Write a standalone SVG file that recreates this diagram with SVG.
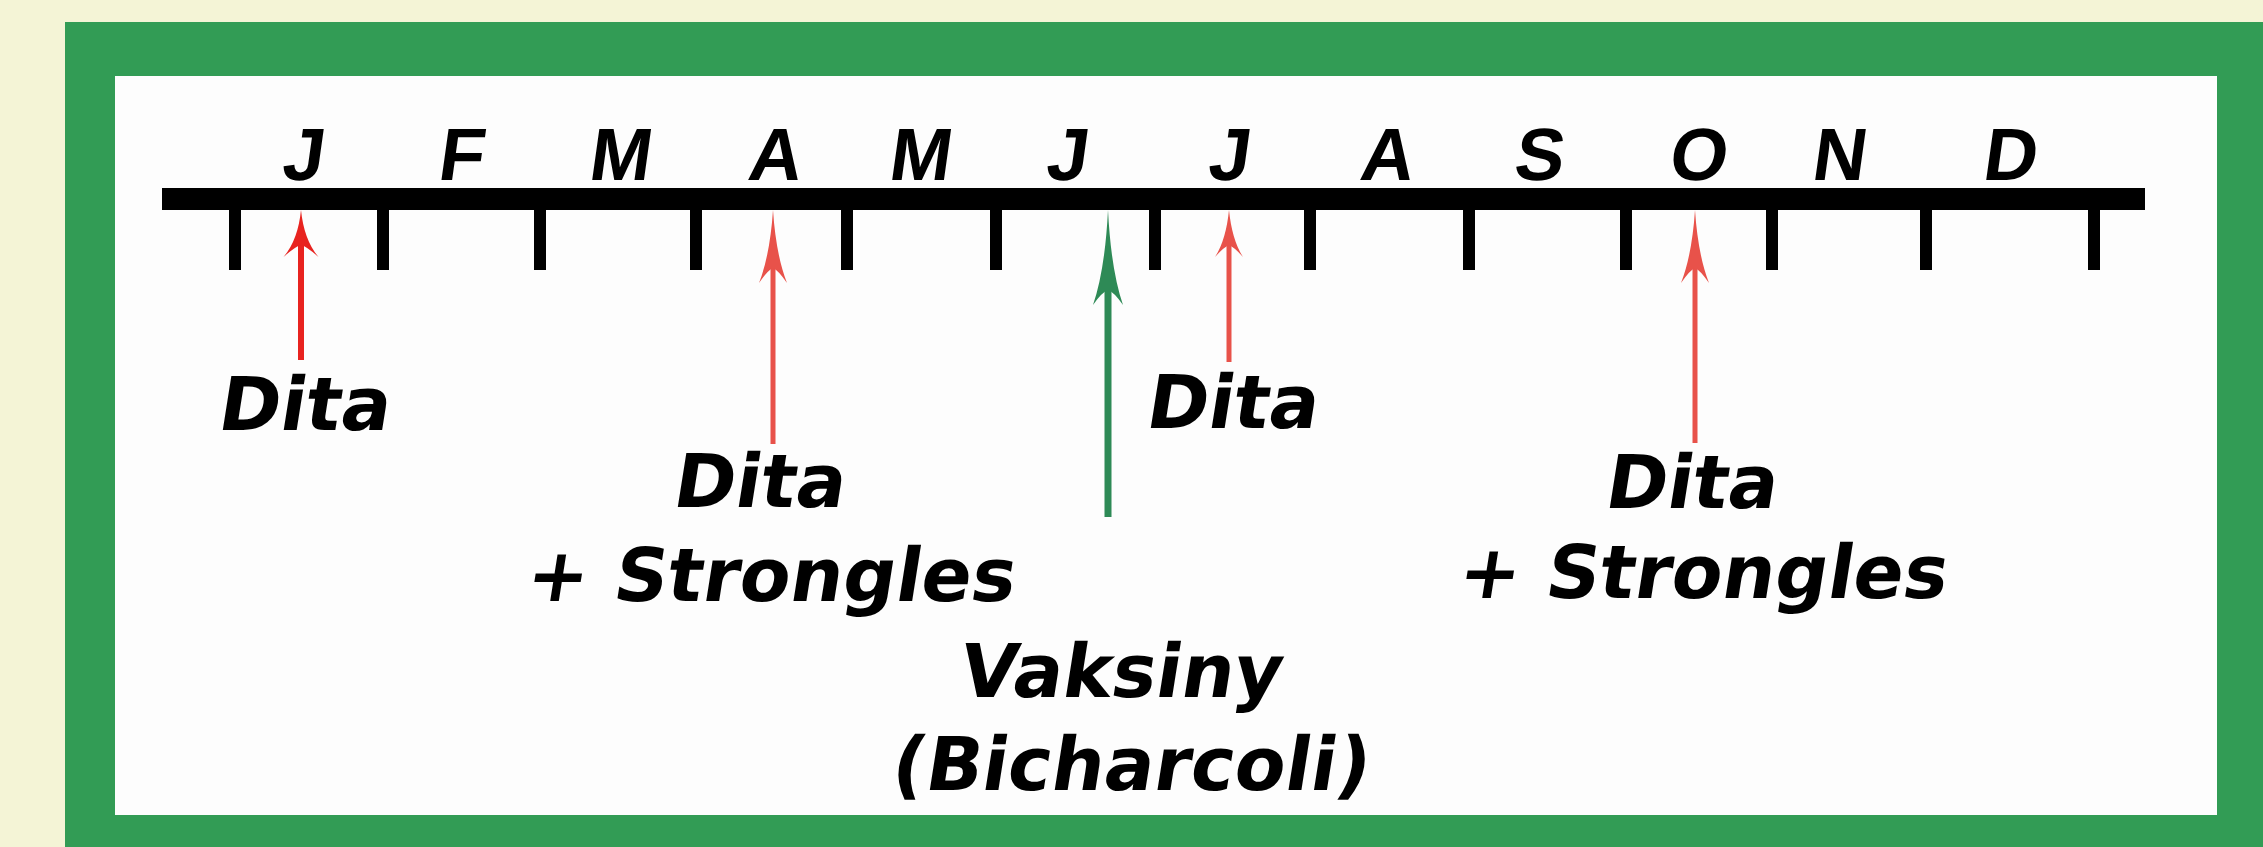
<svg xmlns="http://www.w3.org/2000/svg" width="2263" height="847" viewBox="0 0 2263 847">
<style>
.lbl{font-family:"DejaVu Sans",Verdana,sans-serif;font-weight:bold;font-size:74px;fill:#000;text-anchor:middle}
.mon{font-family:"Liberation Sans",Arial,sans-serif;font-weight:bold;font-size:74px;fill:#000;text-anchor:middle}
.tick{fill:#000}
.red1{fill:#e8231f;stroke:none}
.red{fill:#e8524a;stroke:none}
.grn{fill:#2e8a56;stroke:none}
.l-red1{stroke:#e8231f;stroke-width:6;fill:none}
.l-red{stroke:#e8524a;stroke-width:5;fill:none}
.l-grn{stroke:#2e8a56;stroke-width:7;fill:none}
</style>
<rect x="0" y="0" width="2263" height="847" fill="#f4f4d6"/>
<rect x="65" y="22" width="2198" height="825" fill="#329c55"/>
<rect x="115" y="76" width="2102" height="739" fill="#fdfdfd"/>
<g id="timeline">
<rect x="162" y="188" width="1983" height="22" fill="#000"/>
<rect class="tick" x="229" y="210" width="12" height="60"/>
<rect class="tick" x="377" y="210" width="12" height="60"/>
<rect class="tick" x="534" y="210" width="12" height="60"/>
<rect class="tick" x="690" y="210" width="12" height="60"/>
<rect class="tick" x="841" y="210" width="12" height="60"/>
<rect class="tick" x="990" y="210" width="12" height="60"/>
<rect class="tick" x="1149" y="210" width="12" height="60"/>
<rect class="tick" x="1304" y="210" width="12" height="60"/>
<rect class="tick" x="1463" y="210" width="12" height="60"/>
<rect class="tick" x="1620" y="210" width="12" height="60"/>
<rect class="tick" x="1766" y="210" width="12" height="60"/>
<rect class="tick" x="1920" y="210" width="12" height="60"/>
<rect class="tick" x="2088" y="210" width="12" height="60"/>
</g>
<g id="months">
<text class="mon" transform="translate(301,180) skewX(-8)">J</text>
<text class="mon" transform="translate(459,180) skewX(-8)">F</text>
<text class="mon" transform="translate(618,180) skewX(-8)">M</text>
<text class="mon" transform="translate(773,180) skewX(-8)">A</text>
<text class="mon" transform="translate(918,180) skewX(-8)">M</text>
<text class="mon" transform="translate(1065,180) skewX(-8)">J</text>
<text class="mon" transform="translate(1227,180) skewX(-8)">J</text>
<text class="mon" transform="translate(1385,180) skewX(-8)">A</text>
<text class="mon" transform="translate(1537,180) skewX(-8)">S</text>
<text class="mon" transform="translate(1696,180) skewX(-8)">O</text>
<text class="mon" transform="translate(1837,180) skewX(-8)">N</text>
<text class="mon" transform="translate(2008,180) skewX(-8)">D</text>
</g>
<g id="connectors">
<line class="l-red1" x1="301" y1="245" x2="301" y2="360"/>
<path class="red1" d="M301,210 Q304,240 318.5,257 Q306,246 301,245 Q296,246 283.5,257 Q298,240 301,210 Z"/>
<line class="l-red" x1="773" y1="265" x2="773" y2="444"/>
<path class="red" d="M773,210 Q776,255 787,283 Q778,270 773,268 Q768,270 759,283 Q770,255 773,210 Z"/>
<line class="l-grn" x1="1108" y1="285" x2="1108" y2="517"/>
<path class="grn" d="M1108,210 Q1111,270 1123,305 Q1114,292 1108,290 Q1102,292 1093,305 Q1105,270 1108,210 Z"/>
<line class="l-red" x1="1229" y1="245" x2="1229" y2="362"/>
<path class="red" d="M1229,210 Q1232,240 1243,257 Q1234,247 1229,245 Q1224,247 1215,257 Q1226,240 1229,210 Z"/>
<line class="l-red" x1="1695" y1="265" x2="1695" y2="443"/>
<path class="red" d="M1695,210 Q1698,255 1709,283 Q1700,270 1695,268 Q1690,270 1681,283 Q1692,255 1695,210 Z"/>
</g>
<g id="label-jan"><text class="lbl" transform="translate(302,430) skewX(-9)">Dita</text></g>
<g id="label-apr"><text class="lbl" transform="translate(757,507) skewX(-9)">Dita</text><text class="lbl" transform="translate(768,601) skewX(-9)">+ Strongles</text></g>
<g id="label-jul"><text class="lbl" transform="translate(1230,428) skewX(-9)">Dita</text></g>
<g id="label-oct"><text class="lbl" transform="translate(1689,508) skewX(-9)">Dita</text><text class="lbl" transform="translate(1700,598) skewX(-9)">+ Strongles</text></g>
<g id="label-vaccine"><text class="lbl" transform="translate(1118,697) skewX(-9)">Vaksiny</text><text class="lbl" transform="translate(1128,790) skewX(-9)">(Bicharcoli)</text></g>
</svg>
